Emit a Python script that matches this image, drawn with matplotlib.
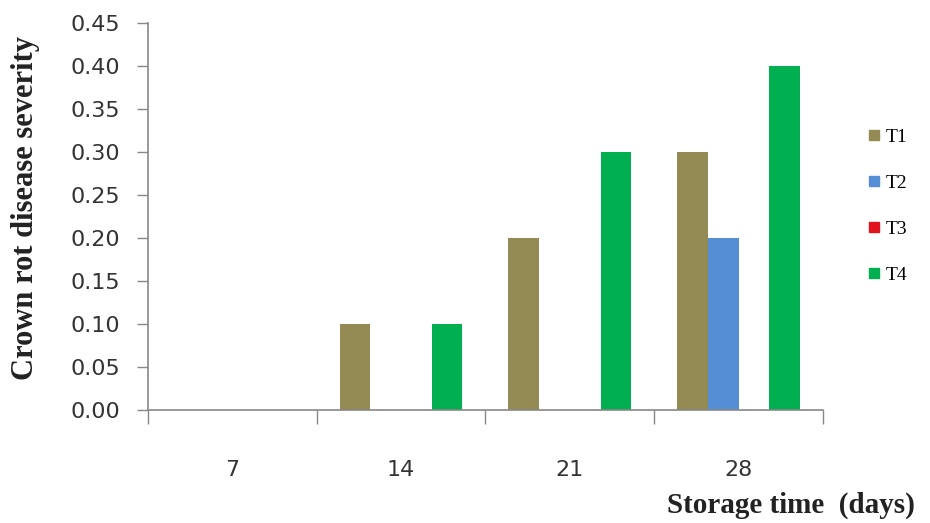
import matplotlib
matplotlib.use("Agg")
import matplotlib.pyplot as plt
import numpy as np
from matplotlib.lines import Line2D

categories = ["7", "14", "21", "28"]
series_names = ["T1", "T2", "T3", "T4"]
t1 = [0.0, 0.10, 0.20, 0.30]
t2 = [0.0, 0.0, 0.0, 0.20]
t3 = [0.0, 0.0, 0.0, 0.0]
t4 = [0.0, 0.10, 0.30, 0.40]
yticks = [0.00, 0.05, 0.10, 0.15, 0.20, 0.25, 0.30, 0.35, 0.40, 0.45]

colors = ["#948A54", "#558ED5", "#E0141E", "#00B050"]
values = [t1, t2, t3, t4]

fig = plt.figure(figsize=(9.3, 5.23), dpi=100)
ax = fig.add_axes([0.159, 0.216, 0.726, 0.740])

x = np.arange(len(categories))
bw = 1 / 5.5
for i, (vals, c) in enumerate(zip(values, colors)):
    ax.bar(x + (i - 1.5) * bw, vals, width=bw, color=c, linewidth=0)

ax.set_xlim(-0.5, len(categories) - 0.5)
ax.set_ylim(0, 0.45)
ax.set_yticks(yticks)
ax.set_yticklabels([f"{v:.2f}" for v in yticks])

# category labels centred, ticks on the category boundaries
ax.set_xticks(np.arange(len(categories) + 1) - 0.5)
ax.set_xticklabels([])
ax.set_xticks(x, minor=True)
ax.set_xticklabels(categories, minor=True)
ax.tick_params(axis="x", which="minor", length=0, pad=36, labelsize=16,
               labelcolor="#333333")
ax.tick_params(axis="x", which="major", length=10, width=1, color="#888888",
               direction="out")
ax.tick_params(axis="y", length=8, width=1, color="#888888", labelsize=16,
               labelcolor="#333333", pad=12)

for s in ["top", "right"]:
    ax.spines[s].set_visible(False)
for s in ["left", "bottom"]:
    ax.spines[s].set_color("#888888")
    ax.spines[s].set_linewidth(1.2)

serif = ["Liberation Serif", "DejaVu Serif"]
fig.text(0.027, 0.603, "Crown rot disease severity", rotation=90, ha="center",
         va="center", fontsize=22, fontweight="bold", family=serif,
         color="#222222")
fig.text(0.984, 0.033, "Storage time  (days)", ha="right", va="center",
         fontsize=21, fontweight="bold", family=serif, color="#222222")

handles = [Line2D([0], [0], marker="s", linestyle="none", markersize=7,
                  markerfacecolor=c, markeredgecolor=c) for c in colors]
ax.legend(handles, series_names, loc="center left",
          bbox_to_anchor=(1.035, 0.527), frameon=False, handletextpad=0.1,
          handlelength=1.0, labelspacing=1.45,
          prop={"family": serif, "size": 14})

fig.savefig("out.png", dpi=100, facecolor="white")
